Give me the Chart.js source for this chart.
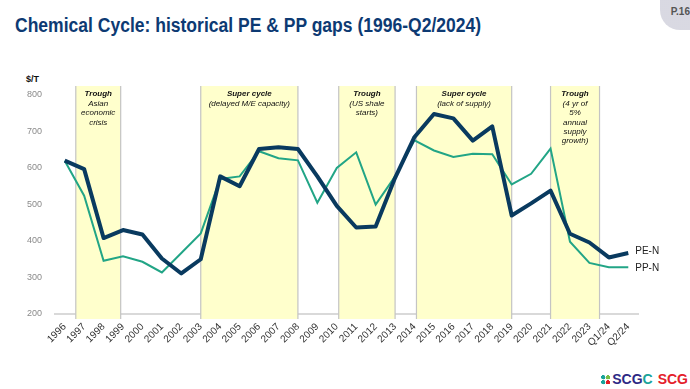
<!DOCTYPE html>
<html>
<head>
<meta charset="utf-8">
<script src="https://cdn.jsdelivr.net/npm/chart.js@4.4.1/dist/chart.umd.min.js"></script>
<style>
  html, body { margin: 0; padding: 0; background: #fff; }
  #wrap { position: relative; width: 690px; height: 389px; overflow: hidden; font-family: "Liberation Sans", Arial, sans-serif; }
  #title { position: absolute; left: 15px; top: 14px; font-family: "Liberation Sans Narrow", "Liberation Sans", sans-serif; font-weight: bold; font-size: 20px; color: #0d3a73; white-space: nowrap;
           transform: scaleX(0.876); transform-origin: left top; }
  #page { position: absolute; right: 0; top: 0; width: 30px; height: 30px; font-size: 10px; font-weight: bold; color: #555; text-align: right; padding-top: 6px; box-sizing: border-box;
          background-image: radial-gradient(#d6d6e0 0.7px, transparent 0.8px); background-size: 2px 2px; border-bottom-left-radius: 20px; }
  #unit { position: absolute; left: 26px; top: 74px; font-size: 9px; font-weight: bold; color: #111; }
  #logo { position: absolute; right: 2px; top: 371px; font-size: 14px; font-weight: bold; white-space: nowrap; }
  #logo .dots { display: inline-block; width: 11px; height: 11px; margin-right: 1px; vertical-align: -1px;
          background: radial-gradient(circle at 30% 30%, #1aa39a 2px, transparent 2.3px), radial-gradient(circle at 72% 30%, #78bd43 2px, transparent 2.3px),
                      radial-gradient(circle at 30% 75%, #1aa39a 2px, transparent 2.3px), radial-gradient(circle at 72% 75%, #e31b23 2px, transparent 2.3px); }
  #logo .a { color: #2e2a85; }
  #logo .c { color: #1aa39a; }
  #logo .b { color: #e4202a; margin-left: 5px; }
  canvas { position: absolute; left: 0; top: 0; }
</style>
</head>
<body>
<div id="wrap">
  <div id="title">Chemical Cycle: historical PE &amp; PP gaps (1996-Q2/2024)</div>
  <div id="page">P.16</div>
  <div id="unit">$/T</div>
  <div id="logo"><span class="dots"></span><span class="a">SCG</span><span class="c">C</span><span class="b">SCG</span></div>
  <canvas id="cycleChart" width="690" height="389"></canvas>
</div>
<script>
// categories
const years = ['1996', '1997', '1998', '1999', '2000', '2001', '2002', '2003', '2004', '2005',
               '2006', '2007', '2008', '2009', '2010', '2011', '2012', '2013', '2014', '2015',
               '2016', '2017', '2018', '2019', '2020', '2021', '2022', '2023', 'Q1/24', 'Q2/24'];
// series, $/T
const peGap = [620, 597, 408, 430, 418, 352, 311, 350, 577, 550,
               652, 657, 652, 577, 496, 437, 440, 573, 685, 748,
               736, 675, 714, 470, 503, 538, 420, 396, 355, 367];
const ppGap = [620, 524, 346, 358, 343, 314, 367, 421, 570, 577,
               646, 627, 621, 505, 600, 643, 500, 577, 676, 648,
               630, 639, 638, 555, 584, 653, 398, 340, 328, 328];
const yTicks = [200, 300, 400, 500, 600, 700, 800];
// shaded periods, in category index units
const bandStart = [0.57, 7, 14.1, 18.1, 25];
const bandEnd = [2.88, 12, 17, 23, 27.52];
const bandHead = ['Trough', 'Super cycle', 'Trough', 'Super cycle', 'Trough'];
const bandNote = [
    ['Asian', 'economic', 'crisis'],
    ['(delayed M/E capacity)'],
    ['(US shale', 'starts)'],
    ['(lack of supply)'],
    ['(4 yr of', '5%', 'annual', 'supply', 'growth)']
];

const FONT = 'Liberation Sans';

function idxToPx(scale, v) {
    const i = Math.floor(v);
    const a = scale.getPixelForValue(i);
    const b = scale.getPixelForValue(i + 1);
    return a + (b - a) * (v - i);
}

const bandsPlugin = {
    id: 'bands',
    beforeDatasetsDraw(chart) {
        const ctx = chart.ctx;
        const x = chart.scales.x;
        const area = chart.chartArea;
        const top = area.top - 9;
        const bottom = area.bottom + 5;
        ctx.save();
        bandStart.forEach((s, k) => {
            const x0 = idxToPx(x, s);
            const x1 = idxToPx(x, bandEnd[k]);
            ctx.fillStyle = '#ffffcc';
            ctx.fillRect(x0, top, x1 - x0, bottom - top);
            ctx.strokeStyle = '#c4c4c4';
            ctx.lineWidth = 1.2;
            ctx.beginPath();
            ctx.moveTo(x0, top); ctx.lineTo(x0, bottom);
            ctx.moveTo(x1, top); ctx.lineTo(x1, bottom);
            ctx.stroke();
            const cx = (x0 + x1) / 2;
            ctx.fillStyle = '#111';
            ctx.textAlign = 'center';
            ctx.textBaseline = 'middle';
            ctx.font = 'italic bold 8px "' + FONT + '"';
            ctx.fillText(bandHead[k], cx, top + 8);
            ctx.font = 'italic 8px "' + FONT + '"';
            bandNote[k].forEach((t, j) => ctx.fillText(t, cx, top + 17.5 + j * 9.4));
        });
        ctx.restore();
    }
};

const endLabelPlugin = {
    id: 'endLabels',
    afterDatasetsDraw(chart) {
        const ctx = chart.ctx;
        ctx.save();
        ctx.font = '10px "' + FONT + '"';
        ctx.fillStyle = '#222';
        ctx.textAlign = 'left';
        ctx.textBaseline = 'middle';
        chart.data.datasets.forEach((ds, i) => {
            const pts = chart.getDatasetMeta(i).data;
            const p = pts[pts.length - 1];
            ctx.fillText(ds.label, p.x + 7, p.y + (i === 0 ? -2 : 1));
        });
        ctx.restore();
    }
};

new Chart(document.getElementById('cycleChart'), {
    type: 'line',
    data: {
        labels: years,
        datasets: [{
            label: 'PE-N',
            data: peGap,
            borderColor: '#093a5f',
            borderWidth: 4,
            pointRadius: 0,
            tension: 0,
            borderJoinStyle: 'round',
            fill: false
        }, {
            label: 'PP-N',
            data: ppGap,
            borderColor: '#22a586',
            borderWidth: 2,
            pointRadius: 0,
            tension: 0,
            fill: false
        }]
    },
    options: {
        responsive: false,
        animation: false,
        layout: { padding: { left: 10, right: 52, top: 95, bottom: 30 } },
        plugins: {
            legend: { display: false },
            tooltip: { enabled: false }
        },
        scales: {
            x: {
                offset: true,
                grid: { display: false, drawTicks: false },
                border: { display: true, color: '#d9d9d9', width: 2 },
                ticks: { color: '#333', padding: 7, maxRotation: 45, minRotation: 45, autoSkip: false, font: { size: 10, family: FONT } },
                afterFit: s => { s.height = 45; }
            },
            y: {
                min: 200,
                max: 800,
                afterBuildTicks: s => { s.ticks = yTicks.map(v => ({ value: v })); },
                grid: { display: false, drawTicks: false },
                border: { display: false },
                ticks: { color: '#8a8a8a', padding: 13, font: { size: 9, family: FONT } },
                afterFit: s => { s.width = 45; }
            }
        }
    },
    plugins: [bandsPlugin, endLabelPlugin]
});
</script>
</body>
</html>
